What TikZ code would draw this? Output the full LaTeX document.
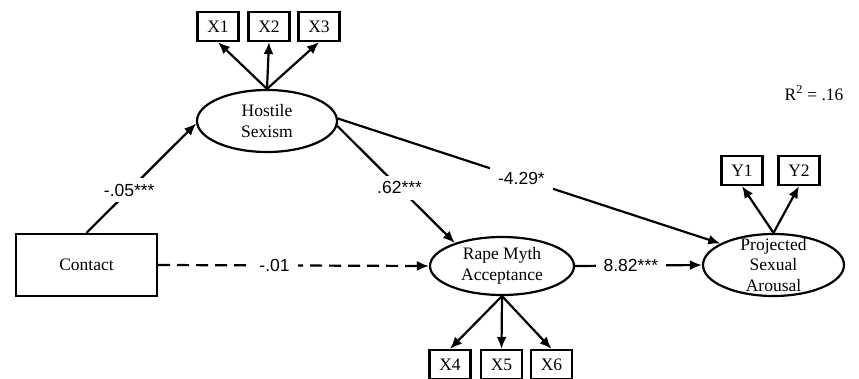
\documentclass[tikz,border=0pt]{standalone}
\usepackage{fontspec}
\setmainfont{Liberation Serif}
\newfontfamily\lblfont{Liberation Sans}
\usetikzlibrary{shapes.geometric,arrows.meta}
\begin{document}
\begin{tikzpicture}[x=1pt,y=-1pt,
  every node/.style={font=\fontsize{17.5}{20.5}\selectfont},
  lat/.style={draw, ellipse, line width=2.2pt, inner sep=0pt},
  obs/.style={draw, rectangle, line width=2.2pt, inner sep=0pt, minimum width=41pt, minimum height=29pt},
  txt/.style={align=center, inner sep=0pt},
  coef/.style={fill=white, inner xsep=8pt, inner ysep=6pt, font=\lblfont\fontsize{17.5}{20}\selectfont},
  pth/.style={line width=2.2pt, -{Latex[length=12pt,width=10pt]}},
]
\useasboundingbox (0,0) rectangle (859,379);

\node[lat, minimum width=140pt, minimum height=62pt] (hs) at (267,121) {};
\node[txt] (hst) at (hs) {Hostile\\Sexism};
\node[lat, minimum width=144pt, minimum height=58pt] (rma) at (502,266) {};
\node[txt] (rmat) at (rma) {Rape Myth\\Acceptance};
\node[lat, minimum width=141pt, minimum height=62pt] (psa) at (773.5,265) {};
\node[txt] (psat) at (psa) {Projected\\Sexual\\Arousal};
\node[draw, line width=2.2pt, inner sep=0pt, minimum width=141pt, minimum height=62pt] (contact) at (86.5,265) {Contact};

\node[obs] (x1) at (218,26.5) {X1};
\node[obs] (x2) at (269,26.5) {X2};
\node[obs] (x3) at (319,26.5) {X3};
\node[obs] (x4) at (450,364.5) {X4};
\node[obs] (x5) at (501.5,364.5) {X5};
\node[obs] (x6) at (551.5,364.5) {X6};
\node[obs] (y1) at (742,170.5) {Y1};
\node[obs] (y2) at (799,170.5) {Y2};

\node (r2) at (814,93) {R\textsuperscript{2} = .16};

\draw[pth] (hs.north) -- (x1.south);
\draw[pth] (hs.north) -- (x2.south);
\draw[pth] (hs.north) -- (x3.south);
\draw[pth] (rma.south) -- (x4.north);
\draw[pth] (rma.south) -- (x5.north);
\draw[pth] (rma.south) -- (x6.north);
\draw[pth] (psa.north) -- (y1.south);
\draw[pth] (psa.north) -- (y2.south);

\draw[pth] (contact.north) -- node[coef, pos=0.39] (c1) {-.05***} (hs.182);
\draw[pth] (hs.-4) -- node[coef, pos=0.53] (c2) {.62***} (rma.154);
\draw[pth] (hs.2) -- node[coef, pos=0.48] (c3) {-4.29*} (psa.158);
\draw[pth, dash pattern=on 12pt off 7pt] (contact.east) -- node[coef, pos=0.43] (c4) {-.01} (rma.west);
\draw[pth] (rma.east) -- node[coef, pos=0.44] (c5) {8.82***} (psa.west);
\end{tikzpicture}
\end{document}
